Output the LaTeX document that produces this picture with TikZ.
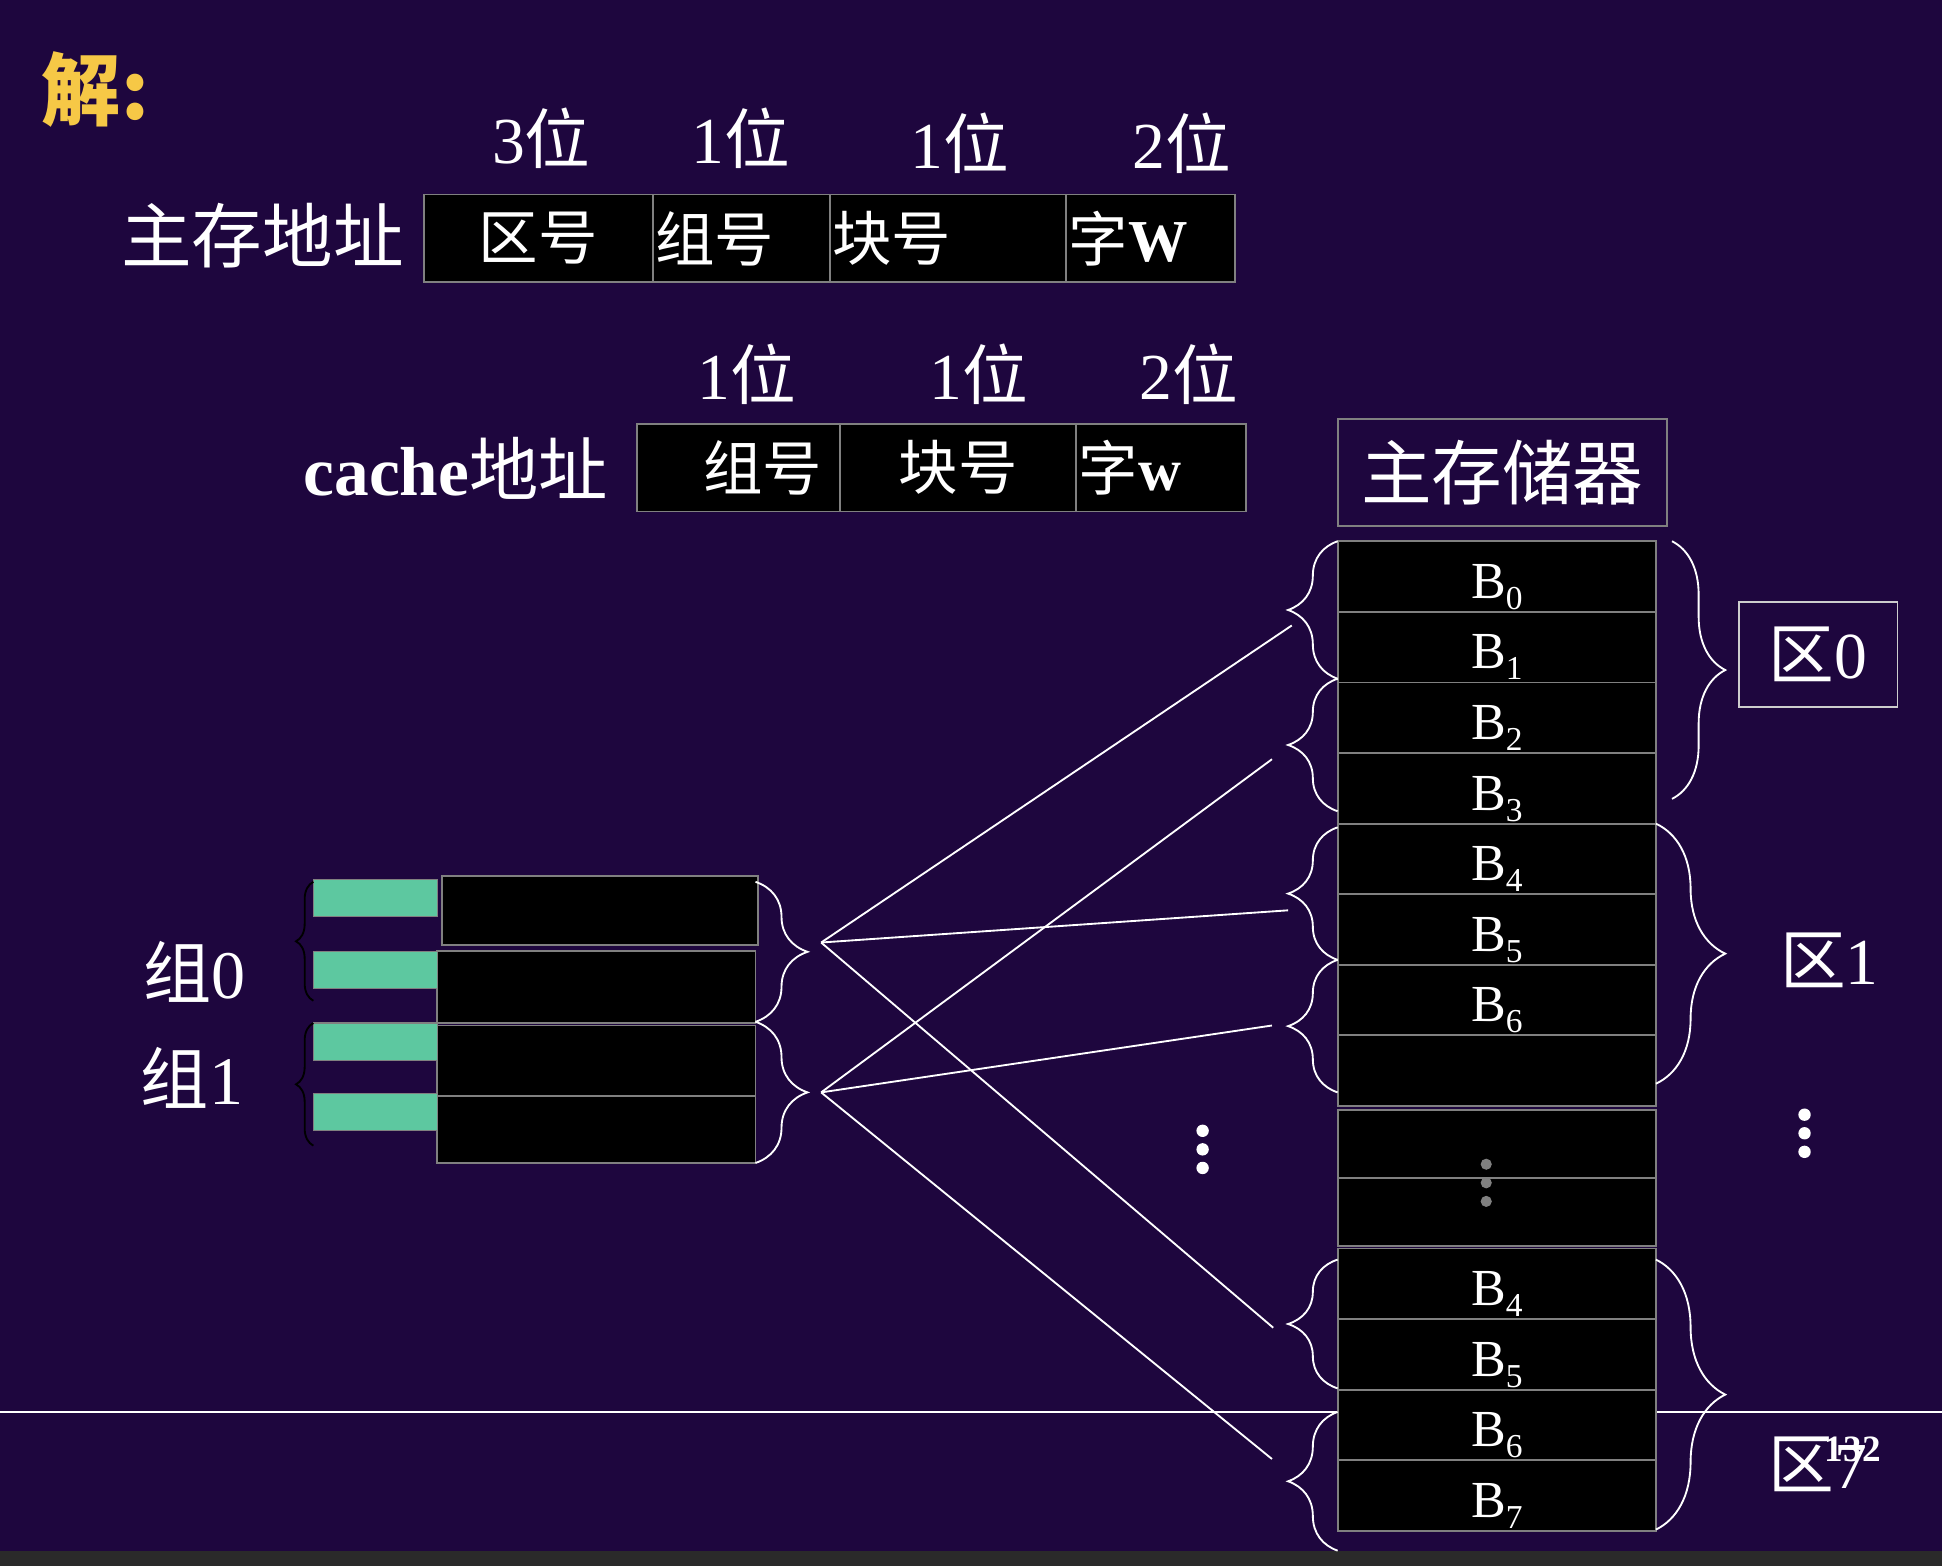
\documentclass[tikz,border=0pt]{standalone}
\usepackage{fontspec}
\setmainfont{Liberation Serif}
\newfontfamily\cnfont{Noto Sans CJK SC}
\usepackage{tikz}
\usetikzlibrary{positioning, decorations.pathreplacing}
\definecolor{bgpurple}{RGB}{30,6,62}
\definecolor{boxgray}{RGB}{128,128,128}
\definecolor{taggreen}{RGB}{93,200,160}
\definecolor{titleyellow}{RGB}{246,200,70}
\definecolor{bargray}{RGB}{42,42,42}
\definecolor{zoneframe}{RGB}{205,205,205}
\newcommand{\zh}[1]{{\cnfont #1}}
\newcommand{\blkname}[1]{B\raisebox{-9pt}{\fontsize{27}{27}\selectfont #1}}
\tikzset{
    field/.style = {rectangle, draw=boxgray, fill=black, line width=1.5pt, minimum height=71pt, inner xsep=2pt, inner ysep=0pt, outer sep=0pt, text=white, font=\cnfont\fontsize{48}{52}\selectfont},
    bits/.style = {inner sep=0pt, text=white, font=\fontsize{53}{58}\selectfont},
    heading/.style = {inner sep=0pt, text=white, font=\fontsize{57}{62}\selectfont},
    mapline/.style = {draw=white, line width=1.5pt},
    dot/.style = {fill=white}
}

\begin{document}
\begin{tikzpicture}[
        x=1pt, y=-1pt,
        % STYLES
        membox/.style = {rectangle, draw=boxgray, fill=black, line width=1.5pt, minimum width=257pt, minimum height=57pt, inner sep=0pt, outer sep=0pt, text height=35pt, text depth=0pt, text=white, font=\fontsize{42}{46}\selectfont},
        cacheline/.style = {rectangle, draw=boxgray, fill=black, line width=1.5pt, minimum width=257pt, inner sep=0pt, outer sep=0pt},
        tagbox/.style = {rectangle, draw=boxgray, fill=taggreen, line width=1pt, minimum width=100pt, minimum height=30pt, inner sep=0pt, outer sep=0pt},
        titlebox/.style = {rectangle, draw=boxgray, line width=1.5pt, minimum width=266pt, minimum height=87pt, text=white, font=\cnfont\fontsize{57}{60}\selectfont},
        zonelabel/.style = {inner sep=0pt, text=white, font=\fontsize{53}{56}\selectfont},
        zonebox/.style = {zonelabel, rectangle, draw=zoneframe, line width=1.5pt, minimum width=128pt, minimum height=85pt},
        wbrace/.style = {decorate, decoration={brace, amplitude=#1}, draw=white, line width=1.5pt},
        kbrace/.style = {decorate, decoration={brace, amplitude=#1}, draw=black, line width=1.5pt}
    ]
    % --- BACKGROUND ---
    \useasboundingbox (0,0) rectangle (1568,1264);
    \fill[bgpurple] (0,0) rectangle (1568,1264);
    \fill[bargray] (0,1252) rectangle (1568,1264);
    \draw[white, line width=1.5pt] (0,1140) -- (1568,1140);

    % --- NODES ---
    % Title
    \node [inner sep=0pt, text=titleyellow, font=\cnfont\bfseries\fontsize{64}{68}\selectfont] (answer) at (77,72) {解:};

    % Main memory address
    \node [bits] (bits_zone) at (437,112) {3\zh{位}};
    \node [bits] (bits_group) at (598,112) {1\zh{位}};
    \node [bits] (bits_block) at (775,116) {1\zh{位}};
    \node [bits] (bits_word) at (954,116) {2\zh{位}};
    \node [heading, font=\cnfont\fontsize{57}{62}\selectfont] (main_label) at (212,190) {主存地址};
    \node [field, minimum width=185pt] (main_zone) at (434.5,192.5) {区号};
    \node [field, text width=139pt, align=left, right=0pt of main_zone] (main_group) {组号};
    \node [field, text width=187pt, align=left, right=0pt of main_group] (main_block) {块号};
    \node [field, text width=132pt, align=left, right=0pt of main_block] (main_word) {字{\rmfamily\bfseries W}};

    % Cache address
    \node [bits] (cbits_group) at (603,302) {1\zh{位}};
    \node [bits] (cbits_block) at (790,302) {1\zh{位}};
    \node [bits] (cbits_word) at (960,302) {2\zh{位}};
    \node [heading, font=\fontsize{56}{60}\selectfont] (cache_label) at (368,378) {\textbf{cache}\zh{地址}};
    \node [field, minimum width=164pt] (cache_group) at (596,377.5) {\hspace*{40pt}组号};
    \node [field, minimum width=191pt, right=0pt of cache_group] (cache_block) {块号};
    \node [field, text width=133pt, align=left, right=0pt of cache_block] (cache_word) {字{\rmfamily\bfseries w}};

    % Main memory column
    \node [titlebox] (mem_title) at (1213,381.5) {主存储器};
    \node [membox, anchor=north] (mem_b0) at (1208.5,437) {\blkname{0}};
    \node [membox, below=0pt of mem_b0] (mem_b1) {\blkname{1}};
    \node [membox, below=0pt of mem_b1] (mem_b2) {\blkname{2}};
    \node [membox, below=0pt of mem_b2] (mem_b3) {\blkname{3}};
    \node [membox, below=0pt of mem_b3] (mem_b4) {\blkname{4}};
    \node [membox, below=0pt of mem_b4] (mem_b5) {\blkname{5}};
    \node [membox, below=0pt of mem_b5] (mem_b6) {\blkname{6}};
    \node [membox, below=0pt of mem_b6] (mem_b7) {};
    \node [membox, minimum height=55pt, anchor=north] (mem_x0) at (1208.5,896) {};
    \node [membox, minimum height=55pt, below=0pt of mem_x0] (mem_x1) {};
    \node [membox, anchor=north] (mem_c4) at (1208.5,1008) {\blkname{4}};
    \node [membox, below=0pt of mem_c4] (mem_c5) {\blkname{5}};
    \node [membox, below=0pt of mem_c5] (mem_c6) {\blkname{6}};
    \node [membox, below=0pt of mem_c6] (mem_c7) {\blkname{7}};
    \fill[boxgray] (1200,940) circle (4.5pt) (1200,955) circle (4.5pt) (1200,970) circle (4.5pt);

    % Zones
    \node [zonebox] (zone_0) at (1468,528.5) {\zh{区}0};
    \node [zonelabel] (zone_1) at (1477,775) {\zh{区}1};
    \node [zonelabel] (zone_7) at (1468,1182) {\zh{区}7};
    \node [inner sep=0pt, text=white, font=\bfseries\fontsize{30}{30}\selectfont] (page_no) at (1496,1170) {132};
    \fill[dot] (1457,900) circle (5pt) (1457,915) circle (5pt) (1457,930) circle (5pt);
    \fill[dot] (971,913) circle (5pt) (971,928) circle (5pt) (971,943) circle (5pt);

    % Cache lines
    \node [cacheline, minimum width=255pt, minimum height=56pt, anchor=north] (cache_0) at (484.5,707) {};
    \node [cacheline, minimum height=58pt, anchor=north] (cache_1) at (481.5,768) {};
    \node [cacheline, minimum height=57pt, anchor=north] (cache_2) at (481.5,828) {};
    \node [cacheline, minimum height=54pt, below=0pt of cache_2] (cache_3) {};
    \node [tagbox, anchor=north east, xshift=-4pt, yshift=-3pt] (tag_0) at (cache_0.north west) {};
    \node [tagbox, anchor=north east] (tag_1) at (cache_1.north west) {};
    \node [tagbox, anchor=north east, yshift=2pt] (tag_2) at (cache_2.north west) {};
    \node [tagbox, anchor=north east, yshift=2pt] (tag_3) at (cache_3.north west) {};
    \node [inner sep=0pt, text=white, font=\fontsize{55}{58}\selectfont] (group_0) at (157,785) {\zh{组}0};
    \node [inner sep=0pt, text=white, font=\fontsize{55}{58}\selectfont] (group_1) at (155,870) {\zh{组}1};

    % Mapping end points
    \coordinate (set_0) at (663,761);
    \coordinate (set_1) at (663,882);
    \coordinate (z0_g0) at (1043,505);
    \coordinate (z0_g1) at (1027,613);
    \coordinate (z1_g0) at (1040,735);
    \coordinate (z1_g1) at (1027,828);
    \coordinate (z7_g0) at (1028,1072);
    \coordinate (z7_g1) at (1027,1178);

    % --- PATHS ---
    % Braces on the cache
    \draw [kbrace=14pt] (253,808) -- (253,712);
    \draw [kbrace=14pt] (253,925) -- (253,826);
    \draw [wbrace=42pt] (610,712) -- (610,825);
    \draw [wbrace=42pt] (610,825) -- (610,939);

    % Braces on the main memory
    \draw [wbrace=40pt] (1080,548) -- (1080,437);
    \draw [wbrace=40pt] (1080,655) -- (1080,548);
    \draw [wbrace=40pt] (1080,775) -- (1080,668);
    \draw [wbrace=40pt] (1080,882) -- (1080,775);
    \draw [wbrace=40pt] (1080,1121) -- (1080,1017);
    \draw [wbrace=40pt] (1080,1252) -- (1080,1140);
    \draw [wbrace=43pt] (1350,437) -- (1350,645);
    \draw [wbrace=56pt] (1337,665) -- (1337,875);
    \draw [wbrace=56pt] (1337,1017) -- (1337,1235);

    % Group 0 and group 1 mapping
    \path [mapline] (set_0) -- (z0_g0);
    \path [mapline] (set_0) -- (z1_g0);
    \path [mapline] (set_0) -- (z7_g0);
    \path [mapline] (set_1) -- (z0_g1);
    \path [mapline] (set_1) -- (z1_g1);
    \path [mapline] (set_1) -- (z7_g1);

\end{tikzpicture}
\end{document}
